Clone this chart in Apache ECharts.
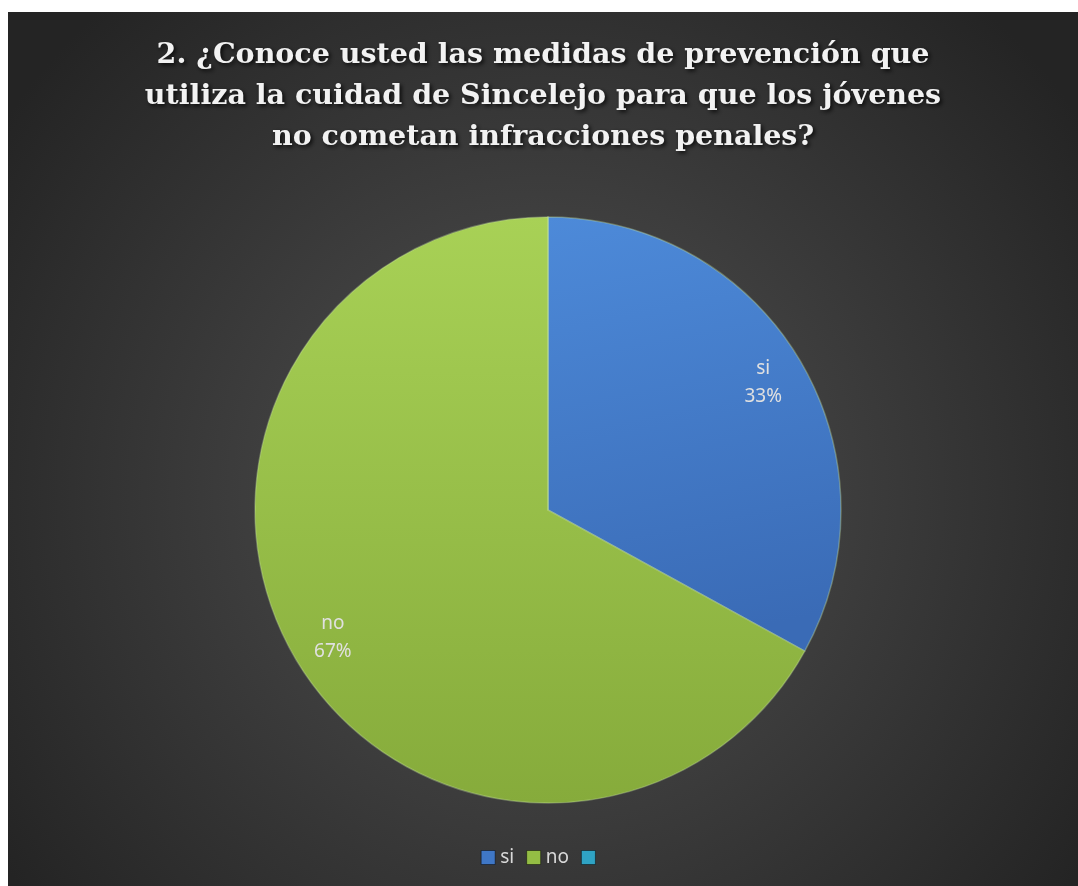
<!DOCTYPE html>
<html>
<head>
<meta charset="utf-8">
<script src="https://cdn.jsdelivr.net/npm/echarts@6/dist/echarts.min.js"></script>
<style>
html,body{margin:0;padding:0;background:#ffffff;}
#chart{position:absolute;left:8px;top:12px;width:1070px;height:874px;}
</style>
</head>
<body>
<div id="chart"></div>
<script>
const titleText = '2. ¿Conoce usted las medidas de prevención que\nutiliza la cuidad de Sincelejo para que los jóvenes\nno cometan infracciones penales?';
const categories = ['si', 'no', ' '];
const values = [33, 67, 0];
const percents = ['33%', '67%', ''];

const sliceColors = [
  {type:'linear',x:0,y:0,x2:0.3,y2:1,colorStops:[{offset:0,color:'#4d8ad9'},{offset:1,color:'#3a6bb6'}]},
  {type:'linear',x:0,y:0,x2:0,y2:1,colorStops:[{offset:0,color:'#a8d156'},{offset:1,color:'#86ab3b'}]},
  '#2f9bb8'
];
const legendColors = ['#3f77c6', '#94bd44', '#2fa3c4'];

const chart = echarts.init(document.getElementById('chart'));

const mainData = categories.map((c, i) => ({
  name: c, value: values[i],
  itemStyle: {color: sliceColors[i]}
}));
const labelData = categories.map((c, i) => ({
  name: c, value: values[i],
  label: {show: values[i] > 0, formatter: c + '\n' + percents[i]}
}));

chart.setOption({
  backgroundColor: {
    type: 'radial', x: 0.5, y: 0.55, r: 0.75,
    colorStops: [{offset: 0, color: '#525252'}, {offset: 1, color: '#242424'}]
  },
  color: legendColors,
  title: {
    text: titleText,
    left: 'center',
    top: 18,
    padding: [5, 0, 5, 12],
    textStyle: {
      fontFamily: 'DejaVu Serif',
      fontWeight: 'bold',
      fontSize: 28.5,
      lineHeight: 41,
      color: '#f2f2f2',
      textShadowColor: 'rgba(0,0,0,0.8)',
      textShadowBlur: 4,
      textShadowOffsetX: 2,
      textShadowOffsetY: 2
    }
  },
  legend: {
    bottom: 14,
    left: 'center',
    padding: [5, 0, 5, 10],
    itemWidth: 14,
    itemHeight: 14,
    itemGap: 12,
    icon: 'rect',
    data: categories.map((c, i) => ({name: c, itemStyle: {color: legendColors[i], borderColor: 'rgba(0,0,0,0.45)', borderWidth: 1}})),
    textStyle: {color: '#d9d9d9', fontSize: 19, fontFamily: 'Noto Sans'}
  },
  series: [
    {
      type: 'pie',
      center: [540, 498],
      radius: [0, 293],
      startAngle: 90,
      clockwise: true,
      silent: true,
      label: {show: false},
      labelLine: {show: false},
      itemStyle: {borderColor: 'rgba(200,230,160,0.35)', borderWidth: 1.5},
      data: mainData
    },
    {
      type: 'pie',
      center: [540, 498],
      radius: [200, 294],
      startAngle: 90,
      clockwise: true,
      silent: true,
      legendHoverLink: false,
      itemStyle: {color: 'rgba(0,0,0,0)'},
      label: {
        position: 'inside',
        color: '#e0e0e0',
        fontSize: 19,
        lineHeight: 28,
        fontFamily: 'Noto Sans'
      },
      labelLine: {show: false},
      data: labelData
    }
  ]
});
</script>
</body>
</html>
